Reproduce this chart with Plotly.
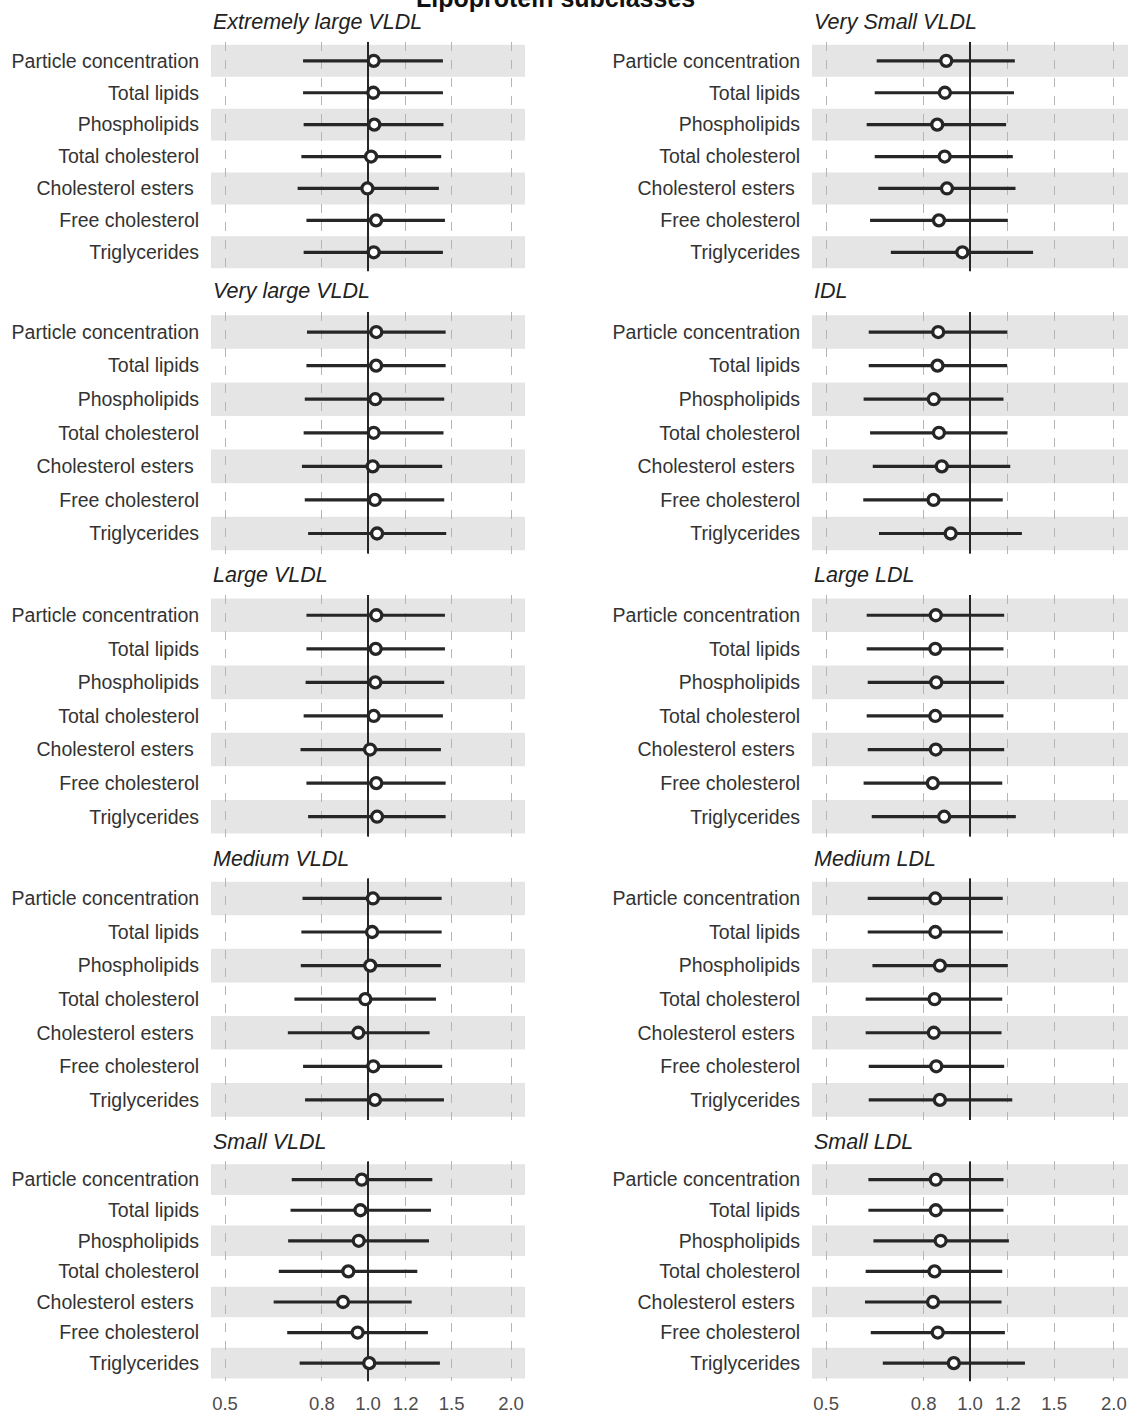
import math
import plotly.graph_objects as go

W, H = 1131, 1414

row_labels = ["Particle concentration", "Total lipids", "Phospholipids",
              "Total cholesterol", "Cholesterol esters\u00a0", "Free cholesterol",
              "Triglycerides"]

panel_titles = ["Extremely large VLDL", "Very Small VLDL",
                "Very large VLDL", "IDL",
                "Large VLDL", "Large LDL",
                "Medium VLDL", "Medium LDL",
                "Small VLDL", "Small LDL"]

# estimates, lower and upper 95% CI, one list per panel (order of panel_titles)
xl_vldl_est = [1.028, 1.026, 1.031, 1.015, 0.997, 1.040, 1.028]
xl_vldl_lo = [0.730, 0.730, 0.732, 0.724, 0.711, 0.742, 0.732]
xl_vldl_hi = [1.438, 1.438, 1.442, 1.426, 1.410, 1.452, 1.438]

vs_vldl_est = [0.892, 0.886, 0.854, 0.885, 0.895, 0.861, 0.964]
vs_vldl_lo = [0.638, 0.632, 0.608, 0.632, 0.643, 0.618, 0.683]
vs_vldl_hi = [1.241, 1.236, 1.190, 1.229, 1.245, 1.200, 1.355]

vl_vldl_est = [1.041, 1.040, 1.036, 1.028, 1.023, 1.034, 1.045]
vl_vldl_lo = [0.744, 0.742, 0.736, 0.732, 0.726, 0.736, 0.748]
vl_vldl_hi = [1.457, 1.457, 1.447, 1.442, 1.433, 1.447, 1.461]

idl_est = [0.858, 0.855, 0.840, 0.861, 0.873, 0.839, 0.911]
idl_lo = [0.614, 0.614, 0.599, 0.618, 0.626, 0.598, 0.645]
idl_hi = [1.196, 1.196, 1.175, 1.198, 1.214, 1.171, 1.284]

l_vldl_est = [1.041, 1.038, 1.036, 1.028, 1.010, 1.041, 1.045]
l_vldl_lo = [0.742, 0.742, 0.739, 0.732, 0.721, 0.742, 0.748]
l_vldl_hi = [1.452, 1.452, 1.447, 1.438, 1.424, 1.457, 1.457]

l_ldl_est = [0.848, 0.846, 0.850, 0.846, 0.848, 0.836, 0.883]
l_ldl_lo = [0.608, 0.608, 0.611, 0.608, 0.611, 0.599, 0.623]
l_ldl_hi = [1.179, 1.175, 1.179, 1.175, 1.179, 1.168, 1.247]

m_vldl_est = [1.024, 1.020, 1.011, 0.987, 0.954, 1.026, 1.034]
m_vldl_lo = [0.728, 0.724, 0.722, 0.700, 0.678, 0.730, 0.737]
m_vldl_hi = [1.429, 1.429, 1.424, 1.390, 1.348, 1.433, 1.445]

m_ldl_est = [0.846, 0.846, 0.865, 0.843, 0.840, 0.850, 0.865]
m_ldl_lo = [0.611, 0.611, 0.625, 0.605, 0.605, 0.614, 0.614]
m_ldl_hi = [1.171, 1.171, 1.200, 1.168, 1.164, 1.179, 1.226]

s_vldl_est = [0.970, 0.964, 0.956, 0.909, 0.886, 0.951, 1.006]
s_vldl_lo = [0.691, 0.687, 0.679, 0.649, 0.633, 0.676, 0.718]
s_vldl_hi = [1.366, 1.357, 1.344, 1.270, 1.236, 1.337, 1.417]

s_ldl_est = [0.848, 0.848, 0.868, 0.843, 0.837, 0.856, 0.925]
s_ldl_lo = [0.613, 0.613, 0.628, 0.605, 0.603, 0.620, 0.657]
s_ldl_hi = [1.175, 1.175, 1.206, 1.168, 1.164, 1.183, 1.303]

panels = [
    (xl_vldl_est, xl_vldl_lo, xl_vldl_hi),
    (vs_vldl_est, vs_vldl_lo, vs_vldl_hi),
    (vl_vldl_est, vl_vldl_lo, vl_vldl_hi),
    (idl_est, idl_lo, idl_hi),
    (l_vldl_est, l_vldl_lo, l_vldl_hi),
    (l_ldl_est, l_ldl_lo, l_ldl_hi),
    (m_vldl_est, m_vldl_lo, m_vldl_hi),
    (m_ldl_est, m_ldl_lo, m_ldl_hi),
    (s_vldl_est, s_vldl_lo, s_vldl_hi),
    (s_ldl_est, s_ldl_lo, s_ldl_hi),
]

x_ticks = [0.5, 0.8, 1.0, 1.2, 1.5, 2.0]
x_ticktext = ["0.5", "0.8", "1.0", "1.2", "1.5", "2.0"]

# layout geometry (pixels)
col_px = [(211, 525), (812, 1128)]
row_px = [(41.8, 272.2), (312.8, 555.2), (596.8, 839.2), (880.8, 1123.2), (1164.6, 1385.4)]
title_px = [22, 292, 577, 861, 1145]

FONT = "Liberation Sans, Arial, Helvetica, sans-serif"
DARK = "#262626"
YPAD = 0.6

fig = go.Figure()
layout = dict(
    width=W, height=H,
    margin=dict(l=0, r=0, t=0, b=0),
    paper_bgcolor="white", plot_bgcolor="white",
    showlegend=False,
    font=dict(family=FONT, color="#333333"),
)
shapes = []
annotations = []

n = len(row_labels)
for k, (est, lo, hi) in enumerate(panels):
    r, c = divmod(k, 2)
    idx = k + 1
    xa = "x" if idx == 1 else f"x{idx}"
    ya = "y" if idx == 1 else f"y{idx}"
    xkey = "xaxis" if idx == 1 else f"xaxis{idx}"
    ykey = "yaxis" if idx == 1 else f"yaxis{idx}"

    x0p, x1p = col_px[c]
    y0p, y1p = row_px[r]
    layout[xkey] = dict(
        domain=[x0p / W, x1p / W], anchor=ya, type="log",
        range=[-0.3305, 0.3305],
        tickvals=x_ticks, ticktext=x_ticktext,
        showticklabels=(r == 4), ticks="outside", ticklen=5,
        tickcolor="rgba(0,0,0,0)",
        tickfont=dict(size=18.5, color="#4d4d4d", family=FONT),
        showgrid=True, gridcolor="#b5b5b5", gridwidth=1, griddash="dash",
        zeroline=False, showline=False,
    )
    layout[ykey] = dict(
        domain=[1 - y1p / H, 1 - y0p / H], anchor=xa,
        range=[n - 1 + YPAD, -YPAD],
        tickvals=list(range(n)), ticktext=row_labels,
        ticks="outside", ticklen=7, tickcolor="rgba(0,0,0,0)",
        tickfont=dict(size=19.5, color="#333333", family=FONT),
        showgrid=False, zeroline=False, showline=False,
    )

    # alternating grey bands
    for i in range(0, n, 2):
        shapes.append(dict(
            type="rect", xref=f"{xa} domain", yref=ya,
            x0=0, x1=1, y0=i - 0.5, y1=i + 0.5,
            fillcolor="#e5e5e5", line=dict(width=0), layer="below",
        ))

    # reference line at 1
    fig.add_trace(go.Scatter(
        x=[1, 1], y=[-YPAD, n - 1 + YPAD], mode="lines",
        line=dict(color=DARK, width=2), xaxis=xa, yaxis=ya, hoverinfo="skip",
    ))

    # confidence intervals
    cx, cy = [], []
    for i in range(n):
        cx += [lo[i], hi[i], None]
        cy += [i, i, None]
    fig.add_trace(go.Scatter(
        x=cx, y=cy, mode="lines", line=dict(color=DARK, width=3.2),
        xaxis=xa, yaxis=ya, hoverinfo="skip",
    ))
    # point estimates
    fig.add_trace(go.Scatter(
        x=est, y=list(range(n)), mode="markers",
        marker=dict(symbol="circle", size=11, color="white",
                    line=dict(color=DARK, width=3.3)),
        xaxis=xa, yaxis=ya,
    ))

    annotations.append(dict(
        text=f"<i>{panel_titles[k]}</i>", xref="paper", yref="paper",
        x=(x0p + 0) / W, y=1 - title_px[r] / H, xanchor="left", yanchor="middle",
        showarrow=False, font=dict(size=21.5, color="#222222", family=FONT),
    ))

annotations.append(dict(
    text="<b>Lipoprotein subclasses</b>", xref="paper", yref="paper",
    x=555 / W, y=1 + 2 / H, xanchor="center", yanchor="middle",
    showarrow=False, font=dict(size=25, color="#111111", family=FONT),
))

layout["shapes"] = shapes
layout["annotations"] = annotations
fig.update_layout(**layout)
fig.write_html(
    "out.html",
    config={"displayModeBar": False},
    post_script="document.body.style.margin='0';document.body.style.padding='0';"
                "document.documentElement.style.overflow='hidden';",
)
